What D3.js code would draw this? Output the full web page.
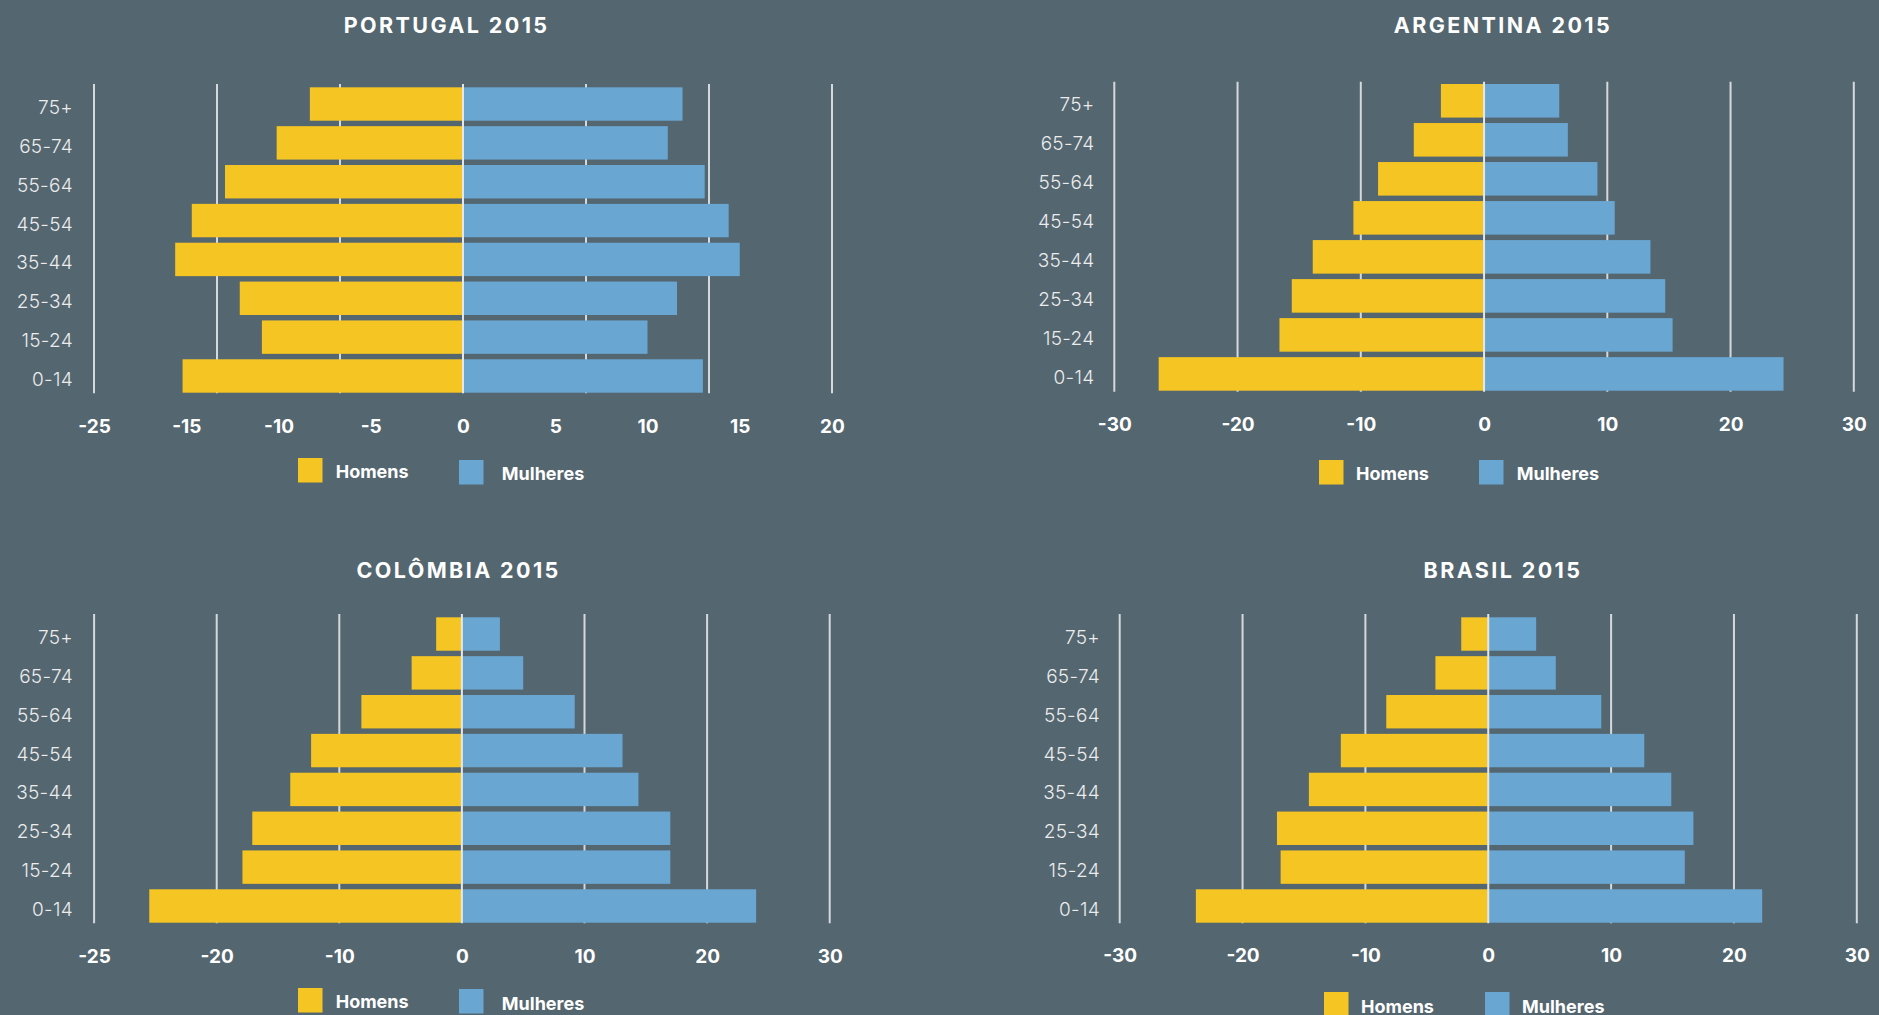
<!DOCTYPE html>
<html>
<head>
<meta charset="utf-8">
<script src="https://cdn.jsdelivr.net/npm/d3@7"></script>
<style>
  html, body { margin: 0; padding: 0; background: #546670; }
  svg { display: block; }
  text { font-family: Inter, Lato, sans-serif; }
</style>
</head>
<body>
<script>
// age groups, bottom to top
var ageGroups = ["0-14", "15-24", "25-34", "35-44", "45-54", "55-64", "65-74", "75+"];

// percent of population, same order as ageGroups
var portugalHomens   = [15.2, 10.9, 12.1, 15.6, 14.7, 12.9, 10.1, 8.3];
var portugalMulheres = [13.0, 10.0, 11.6, 15.0, 14.4, 13.1, 11.1, 11.9];

var argentinaHomens   = [26.4, 16.6, 15.6, 13.9, 10.6, 8.6, 5.7, 3.5];
var argentinaMulheres = [24.3, 15.3, 14.7, 13.5, 10.6, 9.2, 6.8, 6.1];

var colombiaHomens   = [25.5, 17.9, 17.1, 14.0, 12.3, 8.2, 4.1, 2.1];
var colombiaMulheres = [24.0, 17.0, 17.0, 14.4, 13.1, 9.2, 5.0, 3.1];

var brasilHomens   = [23.8, 16.9, 17.2, 14.6, 12.0, 8.3, 4.3, 2.2];
var brasilMulheres = [22.3, 16.0, 16.7, 14.9, 12.7, 9.2, 5.5, 3.9];

// tick values and the labels printed under them (as in the original)
var portugalTicks = [-20, -15, -10, -5, 0, 5, 10, 15, 20];
var portugalTickLabels = ["-25", "-15", "-10", "-5", "0", "5", "10", "15", "20"];
var tenTicks = [-30, -20, -10, 0, 10, 20, 30];
var tenTickLabels = ["-30", "-20", "-10", "0", "10", "20", "30"];
var colombiaTickLabels = ["-25", "-20", "-10", "0", "10", "20", "30"];

var legendLabels = ["Homens", "Mulheres"];

var yellow = "#f5c523",
    blue = "#6aa6d2",
    gridColor = "#d5d9db";

var width = 1879, height = 1015;

var svg = d3.select("body").append("svg")
    .attr("width", width)
    .attr("height", height);

svg.append("rect")
    .attr("width", width)
    .attr("height", height)
    .attr("fill", "#546670");

// layout of each panel
var panels = [
  { title: "PORTUGAL 2015", men: portugalHomens, women: portugalMulheres,
    domain: [-20, 20], xr: [94, 832],
    ticks: portugalTicks, tickLabels: portugalTickLabels,
    grid: d3.range(7).map(function(i) { return -20 + i * 40 / 6; }),
    barTop: 87.3, barBottom: 392.7, gridTop: 84, gridBottom: 393.3,
    labelRight: 73, tickBase: 432.7, titleX: 446.6, titleBase: 33.3,
    legY: 458, legX: [298, 459], legDy: [0, 2], legText: [335.7, 501.8], legBase: [478.3, 480] },
  { title: "ARGENTINA 2015", men: argentinaHomens, women: argentinaMulheres,
    domain: [-30, 30], xr: [1114.3, 1853.8],
    ticks: tenTicks, tickLabels: tenTickLabels, grid: tenTicks,
    barTop: 84, barBottom: 390.7, gridTop: 81.7, gridBottom: 391.7,
    labelRight: 1094.5, tickBase: 430.7, titleX: 1503, titleBase: 33.3,
    legY: 460, legX: [1319, 1479], legDy: [0, 0], legText: [1356, 1516.7], legBase: [480, 480] },
  { title: "COLÔMBIA 2015", men: colombiaHomens, women: colombiaMulheres,
    domain: [-30, 30], xr: [94.1, 829.7],
    ticks: tenTicks, tickLabels: colombiaTickLabels, grid: tenTicks,
    barTop: 617.3, barBottom: 922.7, gridTop: 614, gridBottom: 923.3,
    labelRight: 73, tickBase: 962.7, titleX: 458.6, titleBase: 577.7,
    legY: 988, legX: [298, 459], legDy: [0, 1], legText: [335.7, 501.8], legBase: [1008.3, 1010] },
  { title: "BRASIL 2015", men: brasilHomens, women: brasilMulheres,
    domain: [-30, 30], xr: [1119.7, 1856.8],
    ticks: tenTicks, tickLabels: tenTickLabels, grid: tenTicks,
    barTop: 617.3, barBottom: 922.7, gridTop: 614, gridBottom: 923.3,
    labelRight: 1100, tickBase: 962.3, titleX: 1503, titleBase: 577.7,
    legY: 992, legX: [1324, 1485], legDy: [0, 0], legText: [1361, 1522], legBase: [1012.7, 1013] }
];

panels.forEach(function(p) {
  var g = svg.append("g");

  var x = d3.scaleLinear().domain(p.domain).range(p.xr);
  var y = d3.scaleBand()
      .domain(ageGroups.slice().reverse())
      .range([p.barTop, p.barBottom])
      .paddingInner(0.14)
      .paddingOuter(0);

  var rows = ageGroups.map(function(a, i) {
    return { age: a, men: p.men[i], women: p.women[i] };
  });

  // title
  g.append("text")
      .attr("x", p.titleX)
      .attr("y", p.titleBase)
      .attr("text-anchor", "middle")
      .attr("fill", "#fff")
      .style("font-size", "21.5px")
      .style("font-weight", 700)
      .style("letter-spacing", "2.4px")
      .text(p.title);

  // gridlines (behind bars)
  g.selectAll(".grid")
    .data(p.grid.filter(function(d) { return Math.abs(d) > 1e-9; }))
    .enter().append("line")
      .attr("x1", function(d) { return x(d); })
      .attr("x2", function(d) { return x(d); })
      .attr("y1", p.gridTop)
      .attr("y2", p.gridBottom)
      .attr("stroke", gridColor)
      .attr("stroke-width", 2);

  // men bars
  g.selectAll(".men")
    .data(rows)
    .enter().append("rect")
      .attr("x", function(d) { return x(-d.men); })
      .attr("y", function(d) { return y(d.age); })
      .attr("width", function(d) { return x(0) - x(-d.men); })
      .attr("height", y.bandwidth())
      .attr("fill", yellow);

  // women bars
  g.selectAll(".women")
    .data(rows)
    .enter().append("rect")
      .attr("x", x(0))
      .attr("y", function(d) { return y(d.age); })
      .attr("width", function(d) { return x(d.women) - x(0); })
      .attr("height", y.bandwidth())
      .attr("fill", blue);

  // zero line on top
  g.append("line")
      .attr("x1", x(0)).attr("x2", x(0))
      .attr("y1", p.gridTop).attr("y2", p.gridBottom)
      .attr("stroke", "#e4e6e7")
      .attr("stroke-width", 2);

  // age labels
  g.selectAll(".age")
    .data(rows)
    .enter().append("text")
      .attr("x", p.labelRight)
      .attr("y", function(d) { return y(d.age) + y.bandwidth() / 2 + 10; })
      .attr("text-anchor", "end")
      .attr("fill", "#ececec")
      .style("font-size", "19px")
      .style("font-weight", 300)
      .style("letter-spacing", "0.3px")
      .text(function(d) { return d.age; });

  // x axis labels
  var axis = d3.axisBottom(x)
      .tickValues(p.ticks)
      .tickFormat(function(d, i) { return p.tickLabels[i]; })
      .tickSize(0);

  var ax = g.append("g")
      .attr("transform", "translate(0," + (p.tickBase - 14) + ")")
      .call(axis);
  ax.select(".domain").remove();
  ax.selectAll("text")
      .attr("y", 0)
      .attr("dy", "14px")
      .attr("fill", "#fff")
      .style("font-family", "Inter, Lato, sans-serif")
      .style("font-size", "19px")
      .style("font-weight", 700);

  // legend
  var leg = g.selectAll(".leg")
    .data(legendLabels)
    .enter().append("g");

  leg.append("rect")
      .attr("x", function(d, i) { return p.legX[i]; })
      .attr("y", function(d, i) { return p.legY + p.legDy[i]; })
      .attr("width", 24.5)
      .attr("height", 24.5)
      .attr("fill", function(d, i) { return i === 0 ? yellow : blue; });

  leg.append("text")
      .attr("x", function(d, i) { return p.legText[i]; })
      .attr("y", function(d, i) { return p.legBase[i]; })
      .attr("fill", "#fff")
      .style("font-size", "18px")
      .style("font-weight", 700)
      .text(function(d) { return d; });
});
</script>
</body>
</html>
